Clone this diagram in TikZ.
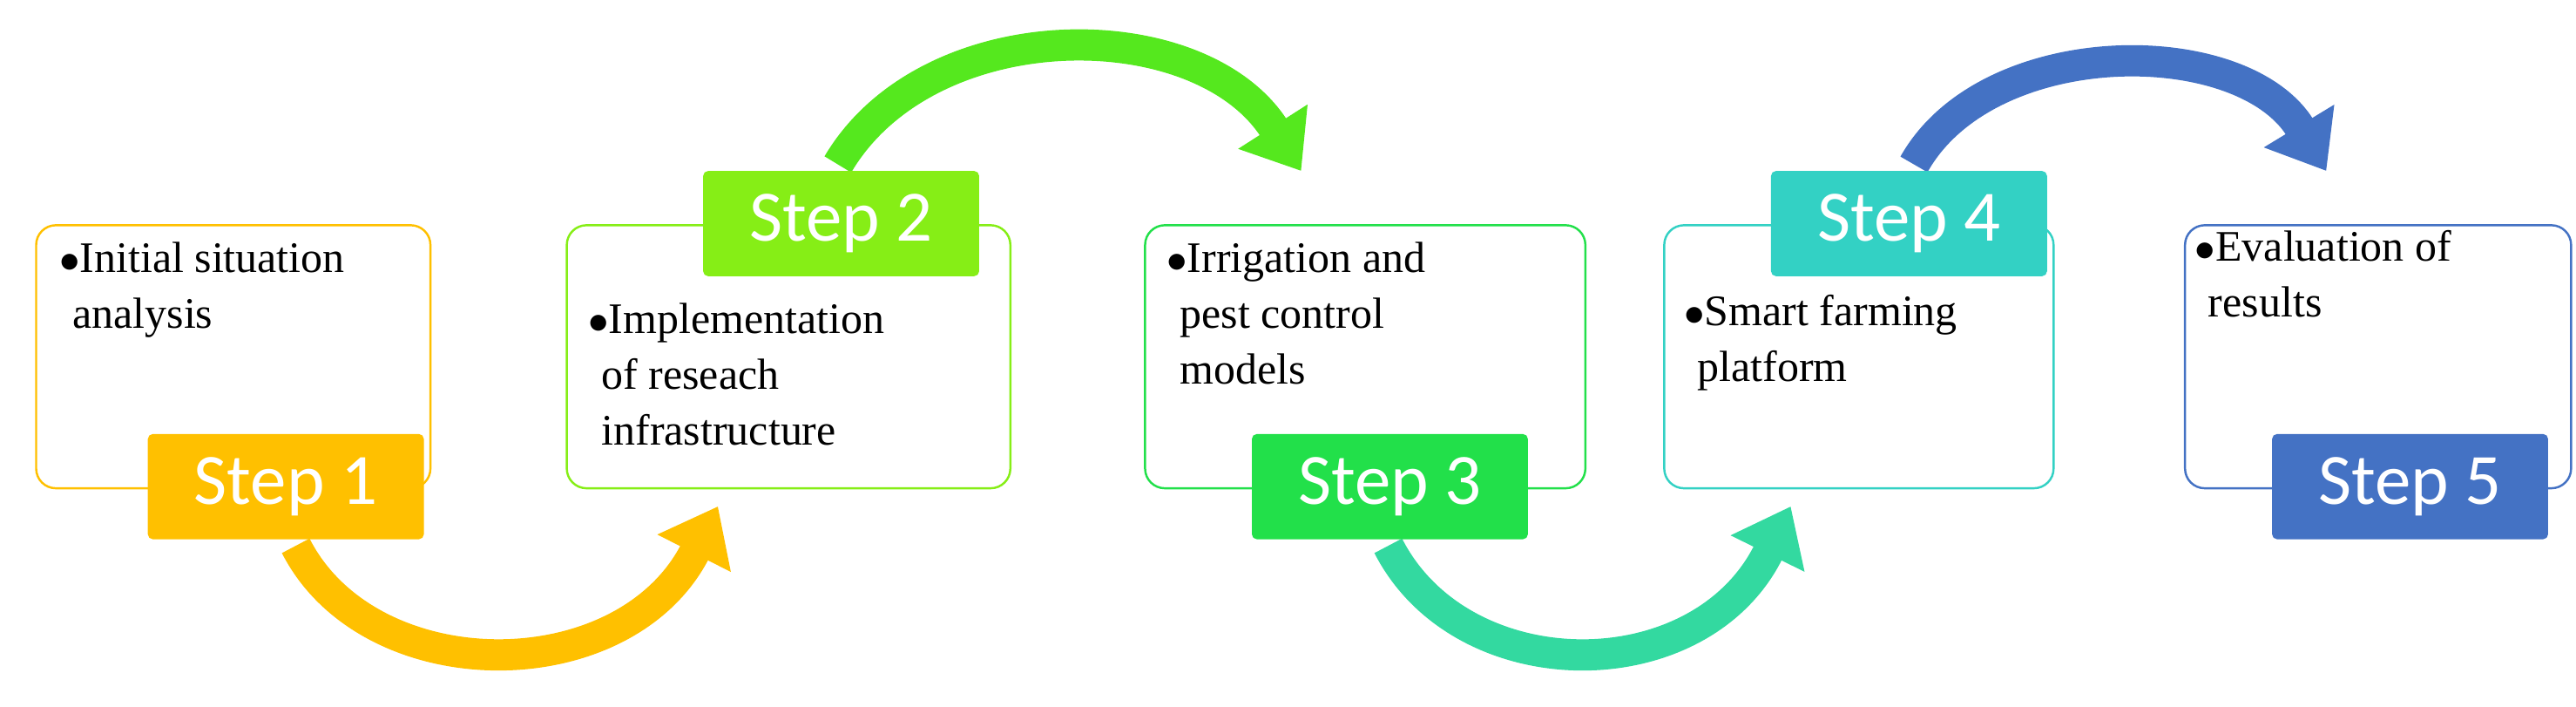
\documentclass[tikz,border=0pt]{standalone}
\usepackage{fontspec}
\setmainfont{Liberation Serif}
\newfontfamily\stepfont{Carlito}
\usetikzlibrary{arrows.meta}
\definecolor{cA}{HTML}{FFC000}
\definecolor{cB}{HTML}{86EE16}
\definecolor{cBa}{HTML}{55E81E}
\definecolor{cC}{HTML}{22E04A}
\definecolor{cCa}{HTML}{33D9A0}
\definecolor{cD}{HTML}{33D1C4}
\definecolor{cE}{HTML}{4472C4}
\tikzset{
  box/.style={draw, line width=1.3pt, rounded corners=12pt, fill=white, minimum width=#1, minimum height=160pt, inner sep=0pt},
  step/.style={fill=#1, rounded corners=3pt, minimum width=168pt, minimum height=64pt, text=white, font=\stepfont\fontsize{44}{44}\selectfont, inner sep=0pt},
  txt/.style={anchor=north west, align=left, font=\fontsize{26.5}{34}\selectfont, inner sep=0pt},
  flow/.style={line width=19pt, draw=#1, -{Triangle[width=48pt,length=32pt]}}
}
\begin{document}
\begin{tikzpicture}[x=1pt,y=-1pt]
\useasboundingbox (0,0) rectangle (1568,430);
% arrows
\draw[flow=cA] (180,332) .. controls (225,420) and (380,420) .. (437,308);
\draw[flow=cBa] (510,100) .. controls (565,7) and (730,7) .. (792,104);
\draw[flow=cCa] (845,332) .. controls (890,420) and (1035,420) .. (1090,308);
\draw[flow=cE] (1165,100) .. controls (1210,20) and (1365,20) .. (1416,104);
% boxes
\node[box=240pt, draw=cA] (b1) at (142,217) {};
\node[box=270pt, draw=cB] (b2) at (480,217) {};
\node[box=268pt, draw=cC] (b3) at (831,217) {};
\node[box=237pt, draw=cD] (b4) at (1131.5,217) {};
\node[box=235pt, draw=cE] (b5) at (1447.5,217) {};
% steps
\node[step=cA] (s1) at (174,296) {Step 1};
\node[step=cB] (s2) at (512,136) {Step 2};
\node[step=cC] (s3) at (846,296) {Step 3};
\node[step=cD] (s4) at (1162,136) {Step 4};
\node[step=cE] (s5) at (1467,296) {Step 5};
% texts
\node[txt] (t1) at (36,147) {$\bullet$Initial situation\\\hspace{8pt}analysis};
\node[txt] (t2) at (358,184) {$\bullet$Implementation\\\hspace{8pt}of reseach\\\hspace{8pt}infrastructure};
\node[txt] (t3) at (710,147) {$\bullet$Irrigation and\\\hspace{8pt}pest control\\\hspace{8pt}models};
\node[txt] (t4) at (1025,179) {$\bullet$Smart farming\\\hspace{8pt}platform};
\node[txt] (t5) at (1336,140) {$\bullet$Evaluation of\\\hspace{8pt}results};
\end{tikzpicture}
\end{document}
